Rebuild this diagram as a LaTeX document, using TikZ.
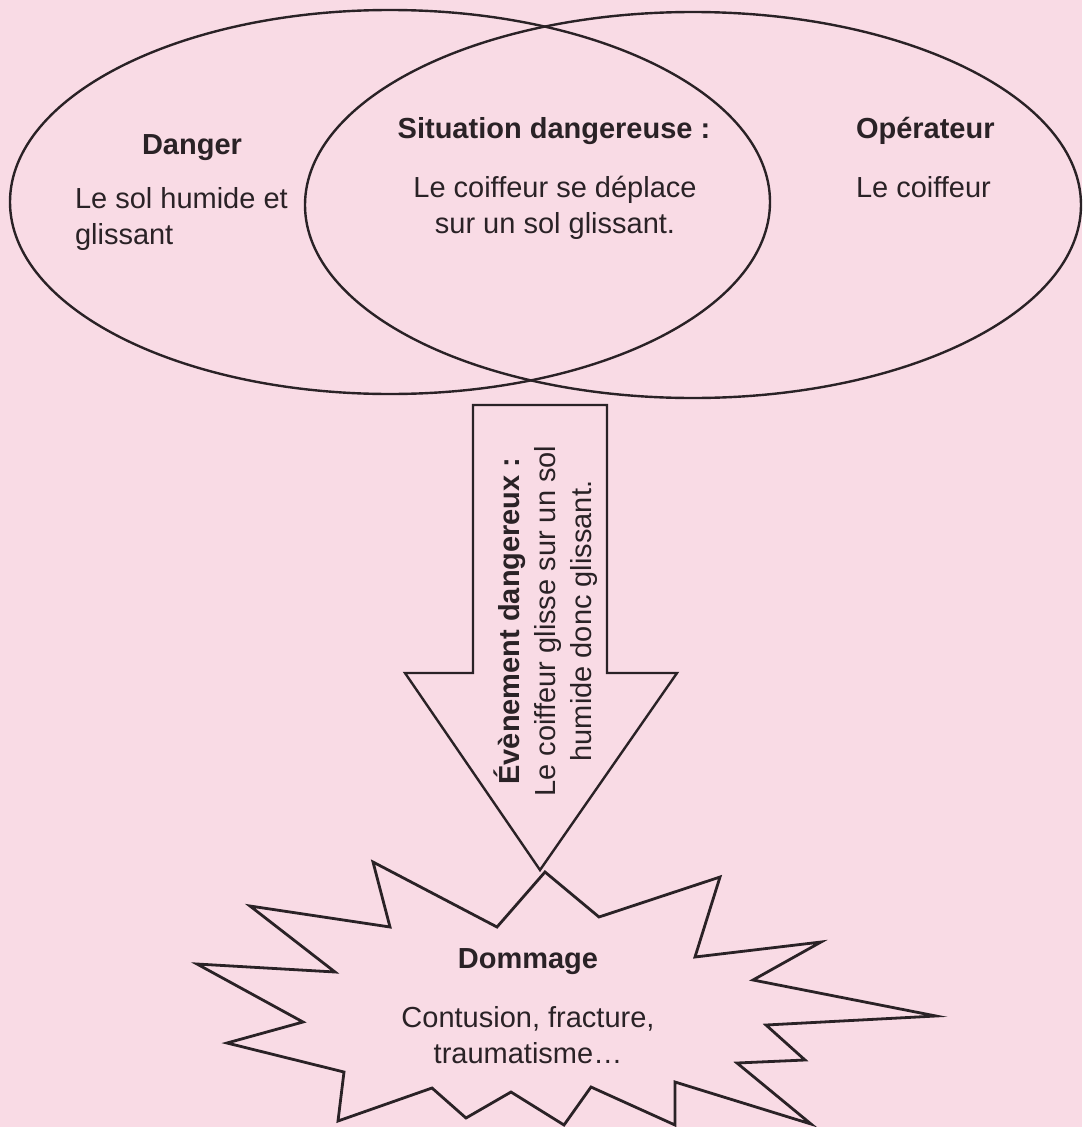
\documentclass[tikz,border=0pt]{standalone}
\usepackage{fontspec}
\setmainfont{Liberation Sans}
\usetikzlibrary{shapes.geometric}
\definecolor{bg}{HTML}{F9DBE5}
\definecolor{ink}{HTML}{2A2226}
\begin{document}
\begin{tikzpicture}[x=1pt,y=-1pt,
  every node/.style={text=ink, inner sep=0pt, outer sep=0pt},
  venn/.style={ellipse, draw=ink, line width=2.4pt},
  ttl/.style={font=\fontsize{29}{35}\selectfont\bfseries, anchor=base},
  body/.style={font=\fontsize{29}{36}\selectfont, align=center, anchor=base},
  outline/.style={draw=ink, line width=2.4pt, line join=miter},
  burst/.style={draw=ink, line width=2.8pt, line join=miter}]
\fill[bg] (0,0) rectangle (1082,1127);
\useasboundingbox (0,0) rectangle (1082,1127);
% Venn ellipses
\node[venn, minimum width=760pt, minimum height=384pt] (danger) at (390,202) {};
\node[venn, minimum width=776pt, minimum height=386pt] (operateur) at (693,205) {};
% texts in ellipses (base anchor of a multi-line node = last line)
\node[ttl] (tdanger) at (192,154) {Danger};
\node[body, align=left, anchor=base west] (bdanger) at (75,244) {Le sol humide et\\glissant};
\node[ttl] (tsit) at (554,138) {Situation dangereuse :};
\node[body] (bsit) at (555,233) {Le coiffeur se déplace\\sur un sol glissant.};
\node[ttl, anchor=base west] (top) at (856,138) {Opérateur};
\node[body, anchor=base west] (bop) at (856,197) {Le coiffeur};
% block arrow
\coordinate (tip) at (540,870);
\draw[outline] (473,405) -- (607,405) -- (607,673) -- (677,673) -- (tip)
  -- (405,673) -- (473,673) -- cycle;
\node[rotate=90, font=\fontsize{29}{36}\selectfont, align=center] (event) at (546,621)
  {{\bfseries Évènement dangereux :}\\Le coiffeur glisse sur un sol\\humide donc glissant.};
% starburst
\draw[burst] (545,872) -- (599,917) -- (720,877) -- (695,957) -- (821,942)
  -- (753,980) -- (936,1016) -- (766,1025) -- (805,1060) -- (737,1063)
  -- (811,1124) -- (675,1082) -- (675,1125) -- (591,1087) -- (564,1125)
  -- (511,1092) -- (466,1118) -- (432,1088) -- (338,1121) -- (344,1072)
  -- (227,1043) -- (303,1022) -- (197,964) -- (335,972) -- (250,906)
  -- (390,927) -- (373,862) -- (497,927) -- cycle;
\node[ttl] (tdom) at (528,968) {Dommage};
\node[body] (bdom) at (528,1063) {Contusion, fracture,\\traumatisme…};
\end{tikzpicture}
\end{document}
